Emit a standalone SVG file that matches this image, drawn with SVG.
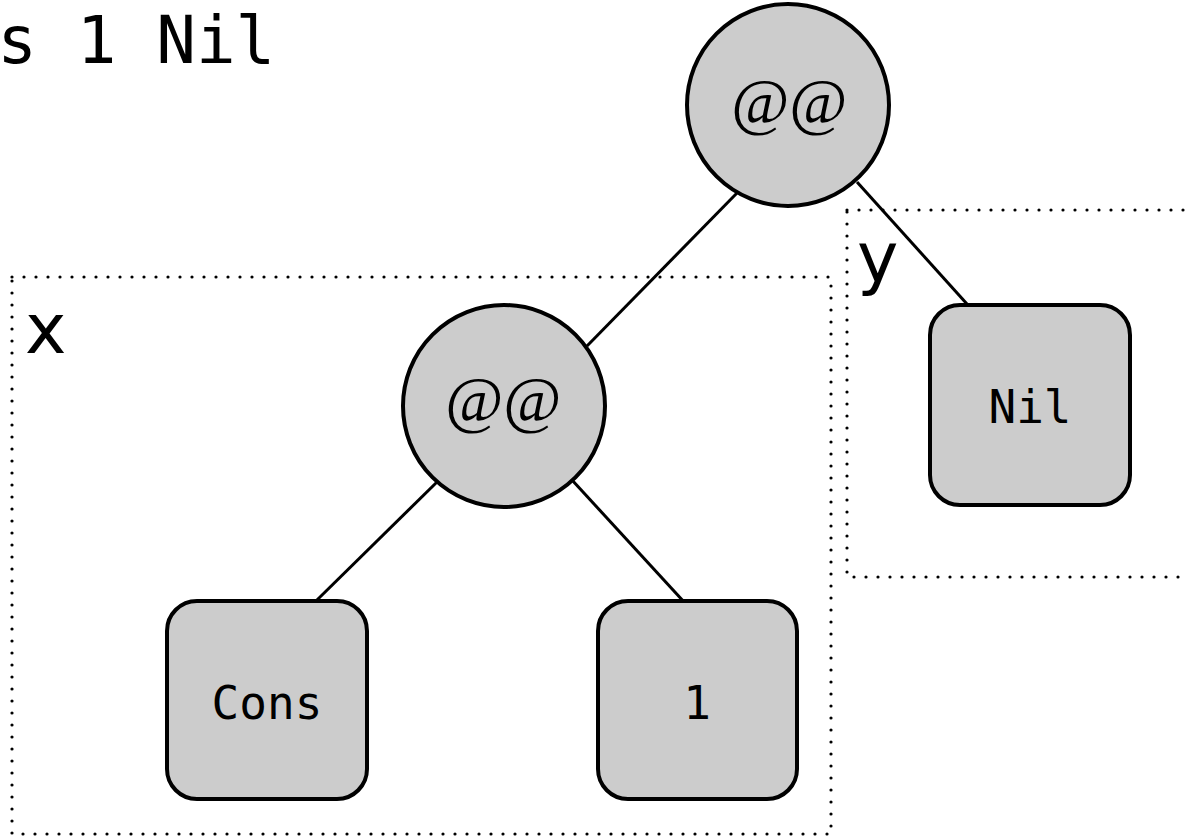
<svg xmlns="http://www.w3.org/2000/svg" width="1187" height="839" viewBox="0 0 1187 839">
<style>
.node{fill:#cccccc;stroke:#000;stroke-width:4}
.edge{stroke:#000;stroke-width:3;fill:none}
.dot{fill:none;stroke:#000;stroke-width:3.2;stroke-dasharray:0 12;stroke-linecap:round}
.mono{font-family:"DejaVu Sans Mono",monospace;fill:#000}
.app{font-family:"Liberation Serif",serif;font-style:italic;font-size:63px;fill:#000}
.lbl{font-family:"DejaVu Sans",sans-serif;font-size:70px;fill:#000}
</style>
<rect width="1187" height="839" fill="#fff"/>
<text class="mono" x="-122" y="63" font-size="66">Cons 1 Nil</text>
<g id="groups">
<rect class="dot" x="12" y="277" width="819" height="557"/>
<rect class="dot" x="847" y="210" width="360" height="367"/>
<text class="lbl" x="25" y="353">x</text>
<text class="lbl" x="857" y="282">y</text>
</g>
<g id="connectors">
<line class="edge" x1="737" y1="193" x2="587" y2="346"/>
<line class="edge" x1="857" y1="182" x2="967" y2="304"/>
<line class="edge" x1="437" y1="482" x2="317" y2="600"/>
<line class="edge" x1="572" y1="480" x2="685" y2="603"/>
</g>
<g id="app1">
<circle class="node" cx="788" cy="105" r="101"/>
<text class="app" x="789" y="123" text-anchor="middle">@@</text>
</g>
<g id="app2">
<circle class="node" cx="504" cy="406" r="101"/>
<text class="app" x="503" y="421" text-anchor="middle">@@</text>
</g>
<g id="cons">
<rect class="node" x="167" y="601" width="200" height="198" rx="30"/>
<text class="mono" x="267" y="719" font-size="46" text-anchor="middle">Cons</text>
</g>
<g id="one">
<rect class="node" x="598" y="601" width="199" height="198" rx="30"/>
<text class="mono" x="697" y="719" font-size="46" text-anchor="middle">1</text>
</g>
<g id="nil">
<rect class="node" x="930" y="305" width="200" height="200" rx="30"/>
<text class="mono" x="1030" y="423" font-size="46" text-anchor="middle">Nil</text>
</g>
</svg>
